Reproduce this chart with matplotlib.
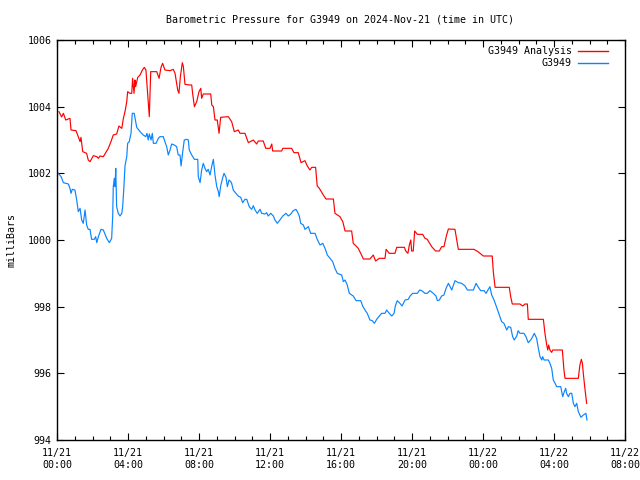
import matplotlib
matplotlib.use("Agg")
import matplotlib.pyplot as plt
import matplotlib.dates as mdates
import pandas as pd

# hours since 2024-11-21 00:00 UTC
analysis_hours = [0.11, 0.26, 0.36, 0.49, 0.73, 0.79, 1.07, 1.2, 1.3, 1.35, 1.45, 1.67, 1.76, 1.86, 2.05, 2.24, 2.33, 2.42, 2.61, 2.89,
                  3.04, 3.17, 3.36, 3.49, 3.65, 3.74, 3.83, 3.93, 3.98, 4.11, 4.21, 4.26, 4.34, 4.39, 4.43, 4.55, 4.68, 4.81, 4.92, 5.01,
                  5.14, 5.2, 5.28, 5.62, 5.75, 5.86, 5.95, 6.08, 6.37, 6.55, 6.65, 6.8, 6.87, 6.95, 7.06, 7.12, 7.21, 7.49, 7.59, 7.64,
                  7.74, 7.87, 8.0, 8.1, 8.15, 8.24, 8.66, 8.72, 8.81, 8.9, 9.03, 9.13, 9.22, 9.65, 9.84, 9.99, 10.21, 10.31, 10.59, 10.78,
                  11.06, 11.25, 11.34, 11.62, 11.76, 12.0, 12.1, 12.15, 12.66, 12.72, 13.22, 13.35, 13.59, 13.75, 13.97, 14.1, 14.25, 14.35, 14.57, 14.66,
                  14.78, 14.97, 15.15, 15.57, 15.66, 15.94, 16.1, 16.23, 16.6, 16.69, 16.79, 16.97, 17.11, 17.26, 17.63, 17.82, 17.95, 18.16, 18.48, 18.54,
                  18.72, 19.04, 19.14, 19.57, 19.65, 19.77, 19.85, 19.93, 19.98, 20.07, 20.15, 20.3, 20.6, 20.73, 20.86, 21.11, 21.33, 21.54, 21.67, 21.8,
                  21.95, 22.05, 22.42, 22.52, 22.61, 23.49, 23.72, 23.83, 24.02, 24.52, 24.58, 24.68, 25.48, 25.56, 25.65, 26.08, 26.24, 26.37, 26.5, 26.55,
                  27.4, 27.49, 27.59, 27.65, 27.7, 27.77, 27.87, 27.93, 28.47, 28.56, 28.62, 29.37, 29.46, 29.54, 29.6, 29.65, 29.75, 29.84]
analysis_mb = [1003.85, 1003.69, 1003.8, 1003.6, 1003.65, 1003.3, 1003.28, 1003.1, 1002.95, 1003.08, 1002.65, 1002.6, 1002.4, 1002.35, 1002.53, 1002.5, 1002.45, 1002.52, 1002.5, 1002.75,
               1002.95, 1003.15, 1003.18, 1003.42, 1003.35, 1003.65, 1003.85, 1004.15, 1004.45, 1004.4, 1004.4, 1004.85, 1004.4, 1004.8, 1004.6, 1004.88, 1004.95, 1005.1, 1005.18, 1005.1,
               1004.15, 1003.7, 1005.05, 1005.05, 1004.85, 1005.18, 1005.3, 1005.1, 1005.08, 1005.12, 1005.0, 1004.5, 1004.4, 1004.9, 1005.32, 1005.2, 1004.67, 1004.65, 1004.65, 1004.4,
               1004.0, 1004.15, 1004.45, 1004.55, 1004.25, 1004.38, 1004.38, 1004.05, 1004.0, 1003.6, 1003.6, 1003.2, 1003.68, 1003.7, 1003.55, 1003.25, 1003.3, 1003.2, 1003.2, 1002.92,
               1003.0, 1002.88, 1002.97, 1002.97, 1002.75, 1002.75, 1002.88, 1002.67, 1002.67, 1002.75, 1002.75, 1002.62, 1002.62, 1002.32, 1002.38, 1002.22, 1002.1, 1002.18, 1002.18, 1001.62,
               1001.55, 1001.38, 1001.23, 1001.23, 1000.8, 1000.7, 1000.55, 1000.27, 1000.27, 999.9, 999.85, 999.75, 999.6, 999.43, 999.43, 999.55, 999.37, 999.45, 999.45, 999.72,
               999.6, 999.6, 999.78, 999.78, 999.67, 999.6, 999.85, 1000.0, 999.67, 999.67, 1000.27, 1000.17, 1000.17, 1000.05, 1000.02, 999.8, 999.67, 999.67, 999.8, 999.8,
               1000.15, 1000.33, 1000.32, 1000.0, 999.72, 999.72, 999.65, 999.6, 999.52, 999.52, 999.05, 998.58, 998.58, 998.3, 998.08, 998.08, 998.02, 998.08, 998.08, 997.62,
               997.62, 997.2, 996.85, 996.7, 996.85, 996.7, 996.63, 996.7, 996.7, 996.1, 995.85, 995.85, 996.25, 996.42, 996.3, 996.0, 995.5, 995.1]

station_hours = [0.07, 0.23, 0.36, 0.64, 0.73, 0.79, 0.86, 1.01, 1.11, 1.2, 1.3, 1.39, 1.48, 1.58, 1.67, 1.76, 1.86, 1.95, 2.1, 2.18,
                 2.24, 2.33, 2.48, 2.61, 2.8, 2.95, 3.08, 3.14, 3.17, 3.23, 3.27, 3.31, 3.36, 3.45, 3.55, 3.65, 3.7, 3.77, 3.83, 3.93,
                 3.98, 4.07, 4.17, 4.24, 4.35, 4.49, 4.68, 4.86, 5.0, 5.07, 5.14, 5.2, 5.3, 5.37, 5.43, 5.58, 5.71, 5.8, 5.99, 6.08,
                 6.18, 6.27, 6.37, 6.46, 6.61, 6.74, 6.83, 6.93, 6.99, 7.06, 7.17, 7.31, 7.4, 7.45, 7.59, 7.74, 7.93, 7.96, 8.06, 8.15,
                 8.24, 8.34, 8.43, 8.52, 8.62, 8.72, 8.81, 8.9, 9.0, 9.09, 9.14, 9.22, 9.34, 9.41, 9.52, 9.6, 9.69, 9.79, 9.84, 9.93,
                 10.08, 10.21, 10.35, 10.46, 10.59, 10.69, 10.83, 10.97, 11.06, 11.16, 11.28, 11.44, 11.53, 11.72, 11.81, 11.9, 12.04, 12.19, 12.28, 12.41,
                 12.56, 12.72, 12.9, 13.03, 13.17, 13.31, 13.46, 13.54, 13.65, 13.73, 13.88, 13.97, 14.16, 14.29, 14.54, 14.66, 14.82, 14.97, 15.1, 15.23,
                 15.38, 15.53, 15.66, 15.79, 16.04, 16.13, 16.23, 16.35, 16.47, 16.69, 16.85, 17.11, 17.22, 17.35, 17.48, 17.63, 17.76, 17.88, 18.01, 18.16,
                 18.29, 18.48, 18.57, 18.72, 18.86, 18.99, 19.06, 19.17, 19.32, 19.44, 19.61, 19.79, 19.89, 20.04, 20.3, 20.43, 20.55, 20.73, 20.86, 21.01,
                 21.2, 21.35, 21.43, 21.54, 21.67, 21.8, 21.92, 22.05, 22.24, 22.42, 22.61, 22.8, 22.99, 23.12, 23.46, 23.61, 23.74, 23.87, 24.06, 24.17,
                 24.3, 24.39, 24.49, 24.62, 24.77, 24.92, 25.05, 25.18, 25.34, 25.43, 25.56, 25.67, 25.76, 25.9, 25.98, 26.08, 26.31, 26.42, 26.55, 26.69,
                 26.8, 26.89, 27.02, 27.12, 27.21, 27.31, 27.36, 27.44, 27.68, 27.77, 27.87, 27.96, 28.06, 28.15, 28.38, 28.49, 28.58, 28.66, 28.71, 28.81,
                 28.9, 29.0, 29.09, 29.18, 29.28, 29.37, 29.52, 29.65, 29.8, 29.86]
station_mb = [1002.0, 1001.9, 1001.72, 1001.68, 1001.55, 1001.4, 1001.52, 1001.5, 1001.2, 1000.85, 1000.95, 1000.6, 1000.5, 1000.9, 1000.45, 1000.32, 1000.32, 1000.02, 1000.02, 1000.1,
              999.92, 1000.1, 1000.32, 1000.3, 1000.05, 999.92, 1000.05, 1000.75, 1001.6, 1001.85, 1001.6, 1002.15, 1001.0, 1000.8, 1000.72, 1000.8, 1001.0, 1001.6, 1002.22, 1002.5,
              1002.9, 1002.95, 1003.2, 1003.8, 1003.8, 1003.38, 1003.25, 1003.15, 1003.1, 1003.2, 1003.0, 1003.18, 1003.0, 1003.2, 1002.9, 1002.9, 1003.05, 1003.1, 1003.1, 1002.95,
              1002.8, 1002.55, 1002.7, 1002.88, 1002.85, 1002.8, 1002.55, 1002.55, 1002.22, 1002.55, 1003.0, 1003.02, 1003.0, 1002.7, 1002.55, 1002.42, 1002.42, 1001.9, 1001.72, 1002.1,
              1002.3, 1002.15, 1002.05, 1002.12, 1001.95, 1002.22, 1002.42, 1001.95, 1001.6, 1001.45, 1001.3, 1001.62, 1001.88, 1002.0, 1001.88, 1001.6, 1001.8, 1001.75, 1001.7, 1001.5,
              1001.4, 1001.32, 1001.28, 1001.12, 1001.22, 1001.22, 1001.0, 1000.92, 1001.03, 1000.9, 1000.8, 1000.92, 1000.8, 1000.78, 1000.82, 1000.72, 1000.8, 1000.72, 1000.6, 1000.5,
              1000.6, 1000.72, 1000.8, 1000.72, 1000.78, 1000.88, 1000.92, 1000.85, 1000.72, 1000.5, 1000.45, 1000.32, 1000.4, 1000.2, 1000.2, 1000.02, 999.85, 999.9, 999.75, 999.55,
              999.45, 999.35, 999.15, 999.0, 998.95, 998.75, 998.8, 998.65, 998.4, 998.32, 998.18, 998.18, 998.02, 997.9, 997.8, 997.6, 997.58, 997.5, 997.62, 997.72,
              997.8, 997.8, 997.9, 997.8, 997.72, 997.8, 998.02, 998.18, 998.1, 998.02, 998.2, 998.22, 998.32, 998.4, 998.4, 998.5, 998.48, 998.4, 998.4, 998.48,
              998.4, 998.32, 998.18, 998.2, 998.32, 998.35, 998.55, 998.7, 998.5, 998.78, 998.72, 998.7, 998.62, 998.5, 998.5, 998.7, 998.58, 998.48, 998.48, 998.4,
              998.52, 998.6, 998.35, 998.2, 997.98, 997.75, 997.55, 997.5, 997.3, 997.4, 997.38, 997.1, 997.0, 997.12, 997.28, 997.2, 997.2, 997.1, 996.92, 997.0,
              997.1, 997.2, 997.05, 996.75, 996.5, 996.4, 996.5, 996.4, 996.4, 996.3, 996.15, 995.8, 995.7, 995.6, 995.6, 995.3, 995.45, 995.55, 995.4, 995.3,
              995.4, 995.4, 995.1, 995.0, 995.1, 994.85, 994.68, 994.75, 994.8, 994.6]

series_labels = ["G3949 Analysis", "G3949"]
title_text = "Barometric Pressure for G3949 on 2024-Nov-21 (time in UTC)"
ylabel_text = "milliBars"
y_ticks = [994, 996, 998, 1000, 1002, 1004, 1006]

base = pd.Timestamp("2024-11-21 00:00")
t_an = base + pd.to_timedelta(analysis_hours, unit="h")
t_st = base + pd.to_timedelta(station_hours, unit="h")

font = "DejaVu Sans Mono"
fs = 7.2
plt.rcParams["font.family"] = font
plt.rcParams["font.size"] = fs

fig = plt.figure(figsize=(6.4, 4.8), dpi=100)
ax = fig.add_axes([57 / 640, 40 / 480, 568 / 640, 400 / 480])

ax.plot(t_an, analysis_mb, color="#ff0000", lw=0.85, label=series_labels[0])
ax.plot(t_st, station_mb, color="#0a84ff", lw=0.85, label=series_labels[1])

ax.set_xlim(base, base + pd.Timedelta(hours=32))
ax.set_ylim(994, 1006)
ax.set_yticks(y_ticks)
ax.yaxis.set_major_formatter(matplotlib.ticker.FuncFormatter(lambda v, p: f"{v:.0f}"))
ax.xaxis.set_major_locator(mdates.HourLocator(byhour=[0, 4, 8, 12, 16, 20]))
ax.xaxis.set_minor_locator(mdates.HourLocator())
ax.xaxis.set_major_formatter(mdates.DateFormatter("%m/%d\n%H:%M"))

ax.tick_params(which="both", direction="in", top=True, right=True, colors="black", labelsize=fs)
ax.tick_params(which="major", length=5, width=0.8, pad=4)
ax.tick_params(which="minor", length=3, width=0.8)
ax.tick_params(axis="x", which="major", pad=6)
for s in ax.spines.values():
    s.set_linewidth(1.0)

fig.text(340 / 640, 1 - 19 / 480, title_text, ha="center", va="center", fontsize=fs)
fig.text(12 / 640, 0.5, ylabel_text, rotation=90, ha="center", va="center", fontsize=fs)

leg = ax.legend(loc="upper right", bbox_to_anchor=(1 - 11 / 568, 1.0), frameon=False, markerfirst=False,
                handlelength=3.0, handletextpad=0.6, borderaxespad=0.25, labelspacing=0.2, fontsize=fs)
for h in leg.get_lines():
    h.set_linewidth(1.0)

fig.savefig("out.png", dpi=100)
